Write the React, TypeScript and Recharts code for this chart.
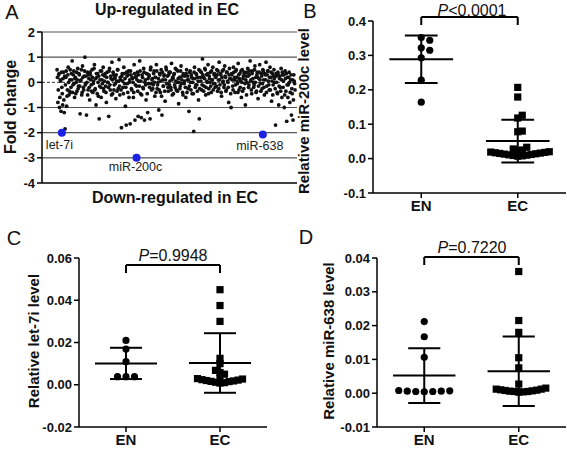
import React from "react";
import { ReferenceLine, Scatter, ScatterChart, XAxis, YAxis } from "recharts";

const FONT = '"Liberation Sans", Arial, sans-serif';

// Panel A: fold change of each miRNA on the array (x = order on the array)
const FOLD_CHANGES = [
  0.5, -0.8, 0.3, -1.0, 0.1, -1.15, -0.2, -0.9, 0.4, -1.2, -1.85, 0.2, -0.95, -0.3, 0.6, -0.5, 0.1, -0.4, 0.35, 0.85,
  -0.1, 0.45, -0.6, 0.2, 0.0, -0.35, 0.55, -0.15, 0.3, -1.25, 0.1, -0.5, 0.65, -0.2, 0.25, 1.0, -0.05, -1.3, 0.4, -0.3,
  0.15, -0.7, 0.3, -0.1, 0.5, -0.4, 0.05, 0.7, -0.25, -0.9, 0.2, 0.35, -0.55, -1.45, 0.1, -0.2, 0.45, -0.05, 0.6, -0.35,
  0.25, -0.15, -0.8, 0.4, 0.0, -1.35, 0.55, -0.3, 0.15, 0.8, -0.45, 0.3, -0.1, 0.2, -0.65, 0.05, 0.5, -0.25, 0.9, -0.5,
  0.1, -1.8, 0.35, -0.2, 0.6, -0.05, -0.95, -1.7, 0.25, -0.4, 0.45, 0.0, -1.65, 0.3, -0.3, 0.15, -0.6, 0.7, -1.5, 0.2,
  -0.15, 0.4, -1.35, 0.05, 0.85, -0.45, -1.4, 0.3, -0.2, 0.55, -1.5, 0.1, -0.7, 0.35, -1.2, -0.05, 0.25, -1.45, 0.6, -0.3,
  0.15, -0.1, 0.45, -0.55, 0.2, 0.7, -0.25, 0.0, -1.1, 0.35, -0.4, 0.5, -1.3, 0.1, -0.15, 0.3, -0.75, 0.6, -0.05, 0.25,
  -0.35, 0.4, 0.05, -0.2, 0.75, -0.5, 0.15, 0.3, -0.1, 0.55, -0.3, 0.0, 0.45, -0.85, 0.2, -0.15, 0.65, 0.1, -0.4, 0.35,
  -0.05, 0.25, -0.6, 0.5, 0.1, -0.25, -1.15, 0.4, 0.0, 0.3, -0.45, 0.15, -1.95, 0.6, -0.2, 0.35, -0.1, 0.2, -0.7, -1.45,
  0.45, 0.05, -0.3, 0.93, 0.2, -0.15, 0.55, -0.5, 0.3, 0.0, 0.7, -0.25, 0.15, 0.4, -0.4, 0.1, 0.6, -0.05, 0.35, -0.2,
  0.25, 0.5, -0.35, 0.1, 0.8, -0.1, 0.3, -0.55, 0.45, 0.05, -0.2, 0.65, 0.2, -0.3, 0.4, 0.0, -0.8, 0.55, 0.15, -1.0,
  0.3, -0.15, 0.6, 0.1, -0.4, 0.45, 0.2, -0.05, 0.75, -0.3, 0.35, 0.05, -0.6, 0.5, 0.15, -0.25, 0.4, -0.9, 0.25, 0.0,
  0.55, -0.2, 0.3, 0.85, 0.1, -0.45, 0.45, 0.0, -0.1, 0.65, 0.2, -0.35, 0.4, -0.65, 0.15, 0.7, -0.05, 0.35, -0.25, 0.5,
  0.1, -0.5, 0.3, 0.8, -0.15, 0.45, 0.05, -0.3, 0.6, 0.2, -0.75, 0.35, -0.1, 0.5, 0.0, -1.7, 0.25, -0.4, 0.4, -0.9,
  0.15, -0.2, 0.55, -0.6, 0.3, 0.05, -1.0, 0.45, -0.35, -1.55, 0.2, -0.1, 0.4, -0.8, 0.1, -1.3, -0.45, -1.5, 0.3, -0.05,
];

// second run of probes on the same array (dense central band)
const FOLD_CHANGES_2 = [
  0.2, -0.3, 0.35, -0.6, 0.05, 0.4, -0.45, 0.15, -0.7, 0.25, -0.1, 0.45, -0.55, 0.3, 0.0, -0.35, 0.5, -0.2, 0.1, -0.4,
  0.3, -0.05, 0.15, -0.45, 0.4, 0.1, -0.25, 0.35, -0.15, 0.05, 0.5, -0.4, 0.2, -0.3, 0.45, -0.1, 0.25, 0.0, -0.5, 0.3,
  -0.2, 0.4, 0.1, -0.35, 0.2, -0.05, 0.55, -0.3, 0.15, 0.35, -0.45, 0.0, 0.25, -0.15, 0.45, -0.6, 0.1, 0.3, -0.25, 0.05,
  0.35, -0.4, 0.2, 0.0, -0.2, 0.45, -0.1, 0.25, -0.5, 0.1, 0.4, -0.3, 0.15, -0.05, 0.3, -0.35, 0.5, 0.05, -0.15, 0.2,
  -0.3, 0.25, 0.05, -0.45, 0.35, 0.15, -0.2, 0.4, -0.05, 0.3, -0.6, 0.1, 0.45, -0.25, 0.2, 0.0, -0.4, 0.35, -0.1, 0.25,
  0.1, -0.35, 0.3, -0.15, 0.45, 0.05, -0.5, 0.2, -0.25, 0.4, 0.0, -0.1, 0.35, -0.45, 0.15, 0.3, -0.2, 0.5, -0.05, 0.1,
  -0.25, 0.35, 0.0, 0.2, -0.4, 0.45, -0.1, 0.15, -0.3, 0.3, 0.05, -0.55, 0.4, -0.15, 0.25, -0.35, 0.1, 0.5, -0.05, -0.2,
  0.3, -0.1, 0.4, -0.3, 0.1, 0.2, -0.45, 0.35, -0.2, 0.05, 0.5, -0.35, 0.15, 0.0, -0.25, 0.45, -0.05, 0.25, -0.5, 0.3,
  0.05, -0.2, 0.35, -0.4, 0.25, 0.1, -0.15, 0.45, -0.3, 0.2, 0.0, -0.45, 0.4, 0.15, -0.1, 0.3, -0.35, 0.05, 0.5, -0.25,
  0.2, 0.4, -0.1, 0.3, -0.35, 0.15, 0.5, -0.2, 0.05, 0.35, -0.45, 0.25, 0.0, -0.15, 0.45, 0.1, -0.3, 0.3, -0.05, 0.2,
  -0.15, 0.3, 0.45, -0.25, 0.1, 0.35, -0.4, 0.2, 0.0, 0.5, -0.1, 0.25, -0.35, 0.4, 0.05, -0.2, 0.3, 0.15, -0.45, 0.35,
  0.1, -0.3, 0.4, 0.2, -0.1, 0.5, 0.05, -0.4, 0.3, 0.15, -0.2, 0.45, 0.0, -0.35, 0.25, 0.35, -0.05, 0.1, -0.5, 0.4,
  0.25, -0.1, 0.45, 0.05, -0.3, 0.35, 0.15, -0.2, 0.5, 0.0, -0.4, 0.3, 0.2, -0.15, 0.4, 0.1, -0.35, 0.25, -0.05, 0.45,
  -0.2, 0.35, 0.1, -0.4, 0.3, 0.45, -0.1, 0.2, -0.3, 0.4, 0.05, -0.5, 0.25, 0.15, -0.25, 0.35, 0.0, -0.45, 0.3, -0.15,
  0.25, -0.35, 0.1, 0.4, -0.2, 0.3, -0.5, 0.15, 0.35, -0.1, -0.6, 0.2, 0.0, -0.4, 0.3, -0.25, 0.1, -0.7, 0.05, -0.3,
];

// highlighted miRNAs
const HIGHLIGHT_NAMES = ["let-7i", "miR-200c", "miR-638"];
const HIGHLIGHT_POS = [6, 100, 259];
const HIGHLIGHT_FC = [-2.0, -3.0, -2.07];

const A_TICKS = [2, 1, 0, -1, -2, -3, -4];

const GROUPS = ["EN", "EC"];

// Panel B: miR-200c
const B_EN = [0.352, 0.344, 0.322, 0.315, 0.293, 0.228, 0.164];
const B_EC = [
  0.207, 0.179, 0.126, 0.118, 0.08, 0.078, 0.033, 0.028, 0.025, 0.022, 0.02, 0.019, 0.018, 0.017, 0.016, 0.015,
  0.014, 0.013, 0.012, 0.011, 0.01, 0.009, 0.008, 0.007,
];
const B_MEAN = [0.289, 0.051];
const B_SD = [0.069, 0.062];

// Panel C: let-7i
const C_EN = [0.021, 0.0169, 0.0109, 0.0038, 0.0038, 0.0038];
const C_EC = [
  0.045, 0.0375, 0.03, 0.0125, 0.01, 0.0068, 0.0058, 0.005, 0.003, 0.0027, 0.0024, 0.002, 0.0018, 0.0015, 0.0012,
  0.001, 0.0008, 0.0016, 0.0022, 0.0029,
];
const C_MEAN = [0.0101, 0.0103];
const C_SD = [0.0074, 0.0141];

// Panel D: miR-638
const D_EN = [0.0212, 0.0167, 0.0106, 0.0008, 0.0007, 0.0006, 0.0006, 0.0005, 0.0005, 0.0004];
const D_EC = [
  0.036, 0.0215, 0.018, 0.0105, 0.0075, 0.0027, 0.0015, 0.0012, 0.001, 0.0008, 0.0006, 0.0005, 0.0004, 0.0003,
  0.0005, 0.0007, 0.0009, 0.0012,
];
const D_MEAN = [0.0052, 0.0065];
const D_SD = [0.0081, 0.0103];

// simple beeswarm: spread points with close values sideways (offset in x units)
function swarm(values: number[], pxPerY: number, pxPerX: number, gap: number) {
  const order = values.map((v, i) => ({ v, i })).sort((a, b) => a.v - b.v);
  const placed: { x: number; y: number }[] = [];
  const out: number[] = new Array(values.length).fill(0);
  order.forEach(({ v, i }) => {
    const yp = v * pxPerY;
    for (let k = 0; k < 40; k++) {
      const tries = k === 0 ? [0] : [k * gap, -k * gap];
      const ok = tries.find((xo) => placed.every((q) => Math.hypot(q.x - xo, q.y - yp) >= gap - 0.01));
      if (ok !== undefined) {
        placed.push({ x: ok, y: yp });
        out[i] = ok / pxPerX;
        return;
      }
    }
  });
  return out;
}

const Txt = ({ x, y, size = 14, bold = false, rotate = false, children }: any) => (
  <div
    style={{
      position: "absolute",
      left: x,
      top: y,
      transform: `translate(-50%, -50%)${rotate ? " rotate(-90deg)" : ""}`,
      whiteSpace: "nowrap",
      fontSize: size,
      fontWeight: bold ? 700 : 400,
      lineHeight: 1,
      color: "#111",
    }}
  >
    {children}
  </div>
);

const axisStyle = { stroke: "#000", strokeWidth: 1.5 };
const tickStyle = { fontSize: 13, fontWeight: 700, fill: "#111", fontFamily: FONT };

function FoldChangePanel() {
  const points = [
    ...FOLD_CHANGES.map((fc, i) => ({ x: i, y: fc })),
    ...FOLD_CHANGES_2.map((fc, i) => ({ x: i + 0.5, y: fc })),
  ];
  const highlighted = HIGHLIGHT_NAMES.map((name, i) => ({ x: HIGHLIGHT_POS[i], y: HIGHLIGHT_FC[i], name }));
  return (
    <div style={{ position: "absolute", left: 0, top: 0 }}>
      <ScatterChart width={300} height={225} margin={{ top: 32, right: 3, bottom: 42, left: 0 }}>
        <XAxis type="number" dataKey="x" domain={[-19, 302]} hide />
        <YAxis
          type="number"
          dataKey="y"
          domain={[-4, 2]}
          ticks={A_TICKS}
          width={42}
          tick={tickStyle}
          tickSize={5}
          axisLine={axisStyle}
          tickLine={axisStyle}
        />
        {A_TICKS.filter((t) => t !== 0 && t !== -4).map((t) => (
          <ReferenceLine key={t} y={t} stroke="#555" strokeWidth={1.2} />
        ))}
        <ReferenceLine y={0} stroke="#333" strokeDasharray="3 2" />
        <ReferenceLine y={-4} stroke="#000" strokeWidth={1.5} />
        <Scatter
          data={points}
          isAnimationActive={false}
          shape={(p: any) => <circle cx={p.cx} cy={p.cy} r={1.9} fill="#111" />}
        />
        <Scatter
          data={highlighted}
          isAnimationActive={false}
          shape={(p: any) => {
            const name = p.payload.name;
            const start = name === "let-7i";
            return (
              <g>
                <circle cx={p.cx} cy={p.cy} r={4} fill="#1b22e6" />
                <text
                  x={start ? p.cx - 16 : p.cx - (name === "miR-638" ? 3 : 1)}
                  y={p.cy + (name === "miR-200c" ? 13 : 16)}
                  textAnchor={start ? "start" : "middle"}
                  fontSize={12.5}
                  fontFamily={FONT}
                  fill="#222"
                >
                  {name}
                </text>
              </g>
            );
          }}
        />
      </ScatterChart>
    </div>
  );
}

function DotPlot({ left, top, width, height, margin, yDomain, yTicks, decimals, en, ec, mean, sd, bracketPx }: any) {
  const xAxisH = 30;
  const plotW = width - margin.left - margin.right - 50;
  const plotH = height - margin.top - margin.bottom - xAxisH;
  const pxPerY = plotH / (yDomain[1] - yDomain[0]);
  const pxPerX = plotW / 2;
  const enOff = swarm(en, pxPerY, pxPerX, 8.5);
  const ecOff = swarm(ec, pxPerY, pxPerX, 4.5);
  const enData = en.map((v: number, i: number) => ({ x: 1 + enOff[i], y: v }));
  const ecData = ec.map((v: number, i: number) => ({ x: 2 + ecOff[i], y: v }));
  const bTop = yDomain[1] + bracketPx / pxPerY;
  const bLow = bTop - 8 / pxPerY;
  const seg = (x1: number, y1: number, x2: number, y2: number, key: string) => (
    <ReferenceLine
      key={key}
      segment={[
        { x: x1, y: y1 },
        { x: x2, y: y2 },
      ]}
      stroke="#000"
      strokeWidth={2}
      ifOverflow="visible"
    />
  );
  return (
    <div style={{ position: "absolute", left, top }}>
      <ScatterChart width={width} height={height} margin={margin}>
        <XAxis
          type="number"
          dataKey="x"
          domain={[0.5, 2.5]}
          ticks={[1, 2]}
          tickFormatter={(v: number) => GROUPS[v - 1]}
          tick={{ ...tickStyle, fontSize: 15 }}
          tickSize={5}
          height={xAxisH}
          axisLine={axisStyle}
          tickLine={axisStyle}
          allowDataOverflow
        />
        <YAxis
          type="number"
          dataKey="y"
          domain={yDomain}
          ticks={yTicks}
          tickFormatter={(v: number) => v.toFixed(decimals)}
          width={50}
          tick={tickStyle}
          tickSize={5}
          axisLine={axisStyle}
          tickLine={axisStyle}
          allowDataOverflow
        />
        <Scatter
          data={enData}
          isAnimationActive={false}
          shape={(p: any) => <circle cx={p.cx} cy={p.cy} r={3.6} fill="#000" />}
        />
        <Scatter
          data={ecData}
          isAnimationActive={false}
          shape={(p: any) => <rect x={p.cx - 3.6} y={p.cy - 3.6} width={7.2} height={7.2} fill="#000" />}
        />
        {[1, 2].flatMap((g) => {
          const m = mean[g - 1];
          const s = sd[g - 1];
          return [
            seg(g - 0.33, m, g + 0.33, m, `m${g}`),
            seg(g, m - s, g, m + s, `v${g}`),
            seg(g - 0.17, m + s, g + 0.17, m + s, `t${g}`),
            seg(g - 0.17, m - s, g + 0.17, m - s, `b${g}`),
          ];
        })}
        {seg(1, bTop, 2, bTop, "bt")}
        {seg(1, bTop, 1, bLow, "bl")}
        {seg(2, bTop, 2, bLow, "br")}
      </ScatterChart>
    </div>
  );
}

export default function App() {
  return (
    <div
      style={{
        position: "absolute",
        left: 0,
        top: 0,
        width: 567,
        height: 451,
        background: "#fff",
        fontFamily: FONT,
        overflow: "hidden",
      }}
    >
      <FoldChangePanel />
      <DotPlot
        left={290}
        top={0}
        width={277}
        height={225}
        margin={{ top: 21, right: 1, bottom: 2, left: 33 }}
        yDomain={[-0.1, 0.4]}
        yTicks={[-0.1, 0, 0.1, 0.2, 0.3, 0.4]}
        decimals={1}
        en={B_EN}
        ec={B_EC}
        mean={B_MEAN}
        sd={B_SD}
        bracketPx={4}
      />
      <DotPlot
        left={0}
        top={225}
        width={290}
        height={226}
        margin={{ top: 33, right: 23, bottom: -6, left: 29 }}
        yDomain={[-0.02, 0.06]}
        yTicks={[-0.02, 0, 0.02, 0.04, 0.06]}
        decimals={2}
        en={C_EN}
        ec={C_EC}
        mean={C_MEAN}
        sd={C_SD}
        bracketPx={-7}
      />
      <DotPlot
        left={290}
        top={225}
        width={277}
        height={226}
        margin={{ top: 33, right: 1, bottom: -6, left: 37 }}
        yDomain={[-0.01, 0.04]}
        yTicks={[-0.01, 0, 0.01, 0.02, 0.03, 0.04]}
        decimals={2}
        en={D_EN}
        ec={D_EC}
        mean={D_MEAN}
        sd={D_SD}
        bracketPx={1}
      />

      <Txt x={12} y={12} size={20}>A</Txt>
      <Txt x={310} y={11} size={20}>B</Txt>
      <Txt x={14} y={238} size={20}>C</Txt>
      <Txt x={306} y={237} size={20}>D</Txt>

      <Txt x={167} y={10} size={16} bold>Up-regulated in EC</Txt>
      <Txt x={175} y={198} size={16} bold>Down-regulated in EC</Txt>
      <Txt x={11} y={107} size={16} bold rotate>Fold change</Txt>

      <Txt x={303} y={111} size={15} bold rotate>Relative miR-200c level</Txt>
      <Txt x={33} y={341} size={15} bold rotate>Relative let-7i level</Txt>
      <Txt x={328} y={341} size={15} bold rotate>Relative miR-638 level</Txt>

      <Txt x={472} y={11} size={16}><i>P</i>&lt;0.0001</Txt>
      <Txt x={173} y={256} size={16}><i>P</i>=0.9948</Txt>
      <Txt x={472} y={248} size={16}><i>P</i>=0.7220</Txt>
    </div>
  );
}
